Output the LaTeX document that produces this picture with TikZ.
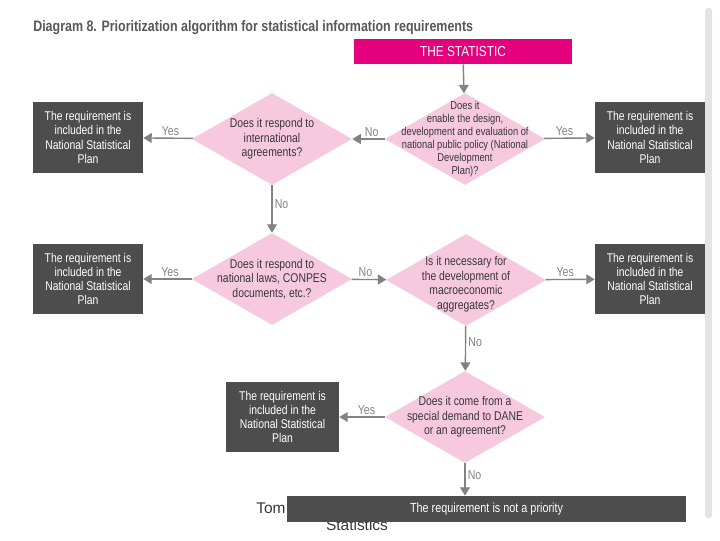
\documentclass[tikz,border=0pt]{standalone}
\usepackage{fontspec}
\setmainfont{Liberation Sans}[FakeStretch=0.82]
\newfontfamily\footfont{Liberation Sans}
\usetikzlibrary{shapes.geometric, arrows.meta, positioning}
\definecolor{statmagenta}{RGB}{229,0,126}
\definecolor{boxgray}{RGB}{77,77,77}
\definecolor{qpink}{RGB}{247,201,222}
\definecolor{qtext}{RGB}{55,55,55}
\definecolor{arrowgray}{RGB}{130,130,130}
\definecolor{titlegray}{RGB}{88,88,88}
\definecolor{edgegray}{RGB}{228,228,228}

\begin{document}
\begin{tikzpicture}[
    % Global Styles
    x=0.025cm, y=-0.025cm,
    % Node Styles
    startbox/.style={
        rectangle,
        fill=statmagenta,
        text=white,
        minimum width=5.425cm,
        minimum height=0.625cm,
        font=\fontsize{10.3}{12}\selectfont
    },
    decision/.style={
        diamond,
        fill=qpink,
        minimum width=4cm,
        minimum height=2.3cm,
        inner sep=0pt
    },
    question/.style={
        align=center,
        text=qtext,
        inner sep=0pt,
        font=\fontsize{9}{10.2}\selectfont
    },
    outcome/.style={
        rectangle,
        fill=boxgray,
        text=white,
        minimum width=2.75cm,
        minimum height=1.75cm,
        align=center,
        inner sep=1pt,
        font=\fontsize{9}{10}\selectfont
    },
    flow/.style={
        arrowgray,
        line width=1pt,
        -{Triangle[width=7pt,length=6pt]}
    },
    answer/.style={
        text=arrowgray,
        inner sep=1.5pt,
        font=\fontsize{9.2}{10}\selectfont
    }
]

    \useasboundingbox (0,0) rectangle (720,540);

    % --- Page edge ---
    \fill[edgegray, rounded corners=2pt] (705,8) rectangle (712,518);

    % --- Title ---
    \node[anchor=west, inner sep=0pt, text=titlegray, font=\fontsize{10.8}{13}\selectfont\bfseries] (title) at (33,28)
        {Diagram 8. Prioritization algorithm for statistical information requirements};

    % --- Start ---
    \node[startbox] (start) at (463,51.5) {THE STATISTIC};

    % --- Questions ---
    \node[decision, label={[question, font=\fontsize{8.1}{9.3}\selectfont]center:{Does it\\enable the design,\\development and evaluation of\\national public policy (National\\Development\\Plan)?}}] (q1) at (465,139) {};
    \node[decision, label={[question]center:{Does it respond to\\international\\agreements?}}] (q2) at (272,139) {};
    \node[decision, label={[question]center:{Does it respond to\\national laws, CONPES\\documents, etc.?}}] (q3) at (272,279) {};
    \node[decision, label={[question, yshift=-3pt]center:{Is it necessary for\\the development of\\macroeconomic\\aggregates?}}] (q4) at (466,280) {};
    \node[decision, label={[question]center:{Does it come from a\\special demand to DANE\\or an agreement?}}] (q5) at (465,417) {};

    % --- Outcomes ---
    \node[outcome] (r1) at (650,137.5) {The requirement is\\included in the\\National Statistical\\Plan};
    \node[outcome] (l1) at (88,137.5) {The requirement is\\included in the\\National Statistical\\Plan};
    \node[outcome] (l2) at (88,279) {The requirement is\\included in the\\National Statistical\\Plan};
    \node[outcome] (r2) at (650,279) {The requirement is\\included in the\\National Statistical\\Plan};
    \node[outcome, minimum width=2.825cm] (b3) at (282.5,417) {The requirement is\\included in the\\National Statistical\\Plan};

    % --- Footer (partly hidden) ---
    \node[text=qtext, font=\footfont\fontsize{11}{13}\selectfont] (foot1) at (271,508) {Tom};
    \node[text=qtext, font=\footfont\fontsize{11}{13}\selectfont] (foot2) at (357,525) {Statistics};

    % --- End ---
    \node[outcome, minimum width=9.975cm, minimum height=0.65cm, font=\fontsize{9.4}{11}\selectfont] (none) at (486.5,509) {The requirement is not a priority};

    % --- Connectors ---
    \draw[flow] (start) -- (q1);
    \draw[flow] (q1) -- node[answer, above, pos=0.4] {Yes} (r1);
    \draw[flow] (q1) -- node[answer, above, pos=0.4] {No} (q2);
    \draw[flow] (q2) -- node[answer, above, pos=0.45] {Yes} (l1);
    \draw[flow] (q2) -- node[answer, right, pos=0.4] {No} (q3);
    \draw[flow] (q3) -- node[answer, above, pos=0.45] {Yes} (l2);
    \draw[flow] (q3) -- node[answer, above, pos=0.4] {No} (q4);
    \draw[flow] (q4) -- node[answer, above, pos=0.4] {Yes} (r2);
    \draw[flow] (q4) -- node[answer, right, pos=0.35] {No} (q5);
    \draw[flow] (q5) -- node[answer, above, pos=0.4] {Yes} (b3);
    \draw[flow] (q5.south) -- node[answer, right, pos=0.35] {No} (q5.south |- none.north);

\end{tikzpicture}
\end{document}
